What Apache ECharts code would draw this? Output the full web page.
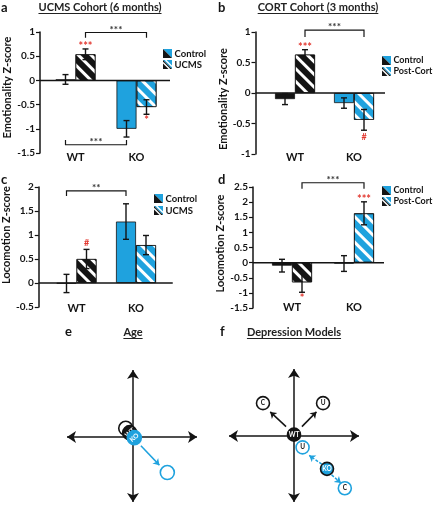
<!DOCTYPE html>
<html><head><meta charset="utf-8">
<script src="https://cdn.jsdelivr.net/npm/echarts@6/dist/echarts.min.js"></script>
<style>html,body{margin:0;padding:0;background:#fff}#c{width:434px;height:506px}</style>
</head><body><div id="c"></div>
<script>
// ---------- data ----------
const categories = ['WT', 'KO'];

// a: UCMS cohort, emotionality
const aTicks = [-1.5, -1, -0.5, 0, 0.5, 1];
const aControl = [0.02, -1.00];
const aControlErr = [0.10, 0.17];
const aUcms = [0.54, -0.55];
const aUcmsErr = [0.11, 0.15];
const aControlStars = ['', ''];
const aUcmsStars = ['***', '*'];
// [fromSeries, fromCat, toSeries, toCat, level, endLevel, text]
const aBrackets = [[1, 0, 1, 1, 0.99, 0.88, '***'], [0, 0, 0, 1, -1.33, -1.23, '***']];

// b: CORT cohort, emotionality
const bTicks = [-1, -0.5, 0, 0.5, 1];
const bControl = [-0.10, -0.165];
const bControlErr = [0.09, 0.085];
const bCort = [0.63, -0.44];
const bCortErr = [0.08, 0.17];
const bControlStars = ['', ''];
const bCortStars = ['***', '#'];
const bBrackets = [[1, 0, 1, 1, 1.03, 0.92, '***']];

// c: UCMS cohort, locomotion
const cTicks = [-0.5, 0, 0.5, 1, 1.5, 2];
const cControl = [-0.01, 1.28];
const cControlErr = [0.19, 0.37];
const cUcms = [0.50, 0.79];
const cUcmsErr = [0.20, 0.20];
const cControlStars = ['', ''];
const cUcmsStars = ['#', ''];
const cBrackets = [[0, 0, 0, 1, 1.92, 1.81, '**']];

// d: CORT cohort, locomotion
const dTicks = [-1.5, -1, -0.5, 0, 0.5, 1, 1.5, 2, 2.5];
const dControl = [-0.10, -0.03];
const dControlErr = [0.21, 0.26];
const dCort = [-0.65, 1.63];
const dCortErr = [0.33, 0.38];
const dControlStars = ['', ''];
const dCortStars = ['*', '***'];
const dBrackets = [[1, 0, 1, 1, 2.64, 2.44, '***']];

// e: Age diagram (E vs L space)
const eAxisH = [[-1, 0], [0.97, 0]];
const eAxisV = [[0, -0.97], [0, 1]];
const eAxisNames = [[0, 1.17, 'E'], [1.12, 0, 'L']];
const eWtAged = [[-0.11, 0.13, '']];
const eWtYoung = [[-0.05, 0.065, 'WT']];
const eKoYoung = [[0.02, -0.01, 'KO']];
const eKoAged = [[0.52, -0.53, '']];
const eKoArrows = [[[0.12, -0.13], [0.40, -0.42]]];

// f: Depression models diagram
const fAxisH = [[-0.985, 0], [0.985, 0]];
const fAxisV = [[0, -0.985], [0, 1]];
const fAxisNames = [[0, 1.17, 'E'], [1.1, 0, 'L']];
const fWtBase = [[0, 0.02, 'WT']];
const fKoBase = [[0.50, -0.49, 'KO']];
const fWtModels = [[-0.47, 0.49, 'C'], [0.44, 0.49, 'U']];
const fKoModels = [[0.13, -0.17, 'U'], [0.77, -0.78, 'C']];
const fWtArrows = [[[-0.12, 0.14], [-0.36, 0.36]], [[0.12, 0.14], [0.34, 0.36]]];
const fKoArrows = [[[0.42, -0.42], [0.23, -0.29]], [[0.57, -0.58], [0.71, -0.70]]];

// ---------- styling ----------
const BLUE = '#1fa2de', INK = '#141414', RED = '#e2372f';
const FONT = 'Lato, "Open Sans", sans-serif';
const BAR_W = 20;
const catColor = [INK, BLUE];

const panels = [
  {grid: {left: 45, top: 32, width: 122, height: 121}, yOff: 5, ext: 3, ticks: aTicks,
   ctrl: aControl, ctrlErr: aControlErr, trt: aUcms, trtErr: aUcmsErr,
   ctrlStars: aControlStars, trtStars: aUcmsStars, brackets: aBrackets,
   yName: 'Emotionality Z-score', nameGap: 24, namePad: [0, 0, 0, 10], catMargin: -1},
  {grid: {left: 265.5, top: 32, width: 118, height: 122}, yOff: 10, ext: 1.5, ticks: bTicks,
   ctrl: bControl, ctrlErr: bControlErr, trt: bCort, trtErr: bCortErr,
   ctrlStars: bControlStars, trtStars: bCortStars, brackets: bBrackets,
   yName: 'Emotionality Z-score', nameGap: 25, namePad: [0, 12, 0, 0], catMargin: -2},
  {grid: {left: 46.75, top: 187, width: 119, height: 120}, yOff: 8, ext: 7, ticks: cTicks,
   ctrl: cControl, ctrlErr: cControlErr, trt: cUcms, trtErr: cUcmsErr,
   ctrlStars: cControlStars, trtStars: cUcmsStars, brackets: cBrackets,
   yName: 'Locomotion Z-score', nameGap: 25, namePad: [0, 0, 0, 24], catMargin: -4},
  {grid: {left: 261, top: 187, width: 124, height: 121}, yOff: 8, ext: -1, ticks: dTicks,
   ctrl: dControl, ctrlErr: dControlErr, trt: dCort, trtErr: dCortErr,
   ctrlStars: dControlStars, trtStars: dCortStars, brackets: dBrackets,
   yName: 'Locomotion Z-score', nameGap: 23, namePad: [0, 0, 0, 8], catMargin: -6}
];

const grids = [], xAxes = [], yAxes = [], series = [];

function errSeries(gi, side, vals, errs, stars) {
  return {
    type: 'custom', xAxisIndex: gi, yAxisIndex: gi, z: 5, silent: true,
    data: vals.map((v, i) => [i, v, errs[i]]),
    renderItem(params, api) {
      const i = params.dataIndex;
      const cat = api.value(0), v = api.value(1), e = api.value(2);
      const cx = api.coord([cat, v])[0] + (side - 0.5) * BAR_W;
      const yt = api.coord([cat, v + e])[1], yb = api.coord([cat, v - e])[1];
      const st = {stroke: INK, lineWidth: 1.4};
      const ch = [
        {type: 'line', shape: {x1: cx, y1: yt, x2: cx, y2: yb}, style: st},
        {type: 'line', shape: {x1: cx - 3, y1: yt, x2: cx + 3, y2: yt}, style: st},
        {type: 'line', shape: {x1: cx - 3, y1: yb, x2: cx + 3, y2: yb}, style: st}
      ];
      const s = stars[i];
      if (s) {
        const up = v >= 0;
        const isHash = s === '#';
        ch.push({type: 'text', style: {
          text: s, x: cx, y: up ? yt + (isHash ? -2 : 3) : yb + (isHash ? 2 : 1),
          align: 'center', textAlign: 'center',
          verticalAlign: up ? 'bottom' : 'top', textVerticalAlign: up ? 'bottom' : 'top',
          fill: RED, font: 'bold ' + (isHash ? 9 : 11) + 'px ' + FONT}});
      }
      return {type: 'group', children: ch};
    }
  };
}

function bracketSeries(gi, brackets) {
  return {
    type: 'custom', xAxisIndex: gi, yAxisIndex: gi, z: 6, silent: true,
    data: brackets.map(b => [b[1], b[4]]),
    renderItem(params, api) {
      const b = brackets[params.dataIndex];
      const x1 = api.coord([b[1], b[4]])[0] + (b[0] - 0.5) * BAR_W;
      const x2 = api.coord([b[3], b[4]])[0] + (b[2] - 0.5) * BAR_W;
      const y = api.coord([b[1], b[4]])[1], ye = api.coord([b[1], b[5]])[1];
      return {type: 'group', children: [
        {type: 'polyline', shape: {points: [[x1, ye], [x1, y], [x2, y], [x2, ye]]},
         style: {stroke: INK, lineWidth: 1.2, fill: null}},
        {type: 'text', style: {text: b[6], x: (x1 + x2) / 2, y: y + 2,
          align: 'center', textAlign: 'center', verticalAlign: 'bottom', textVerticalAlign: 'bottom',
          fill: '#333', font: 'bold 10px ' + FONT}}
      ]};
    }
  };
}

function zeroSeries(gi, yOff, ext) {
  return {
    type: 'custom', xAxisIndex: gi, yAxisIndex: gi, z: 4, silent: true,
    data: [[0, 0]],
    renderItem(params, api) {
      const cs = params.coordSys;
      const y = api.coord([0, 0])[1];
      return {type: 'line', shape: {x1: cs.x - yOff, y1: y, x2: cs.x + cs.width + ext, y2: y},
        style: {stroke: INK, lineWidth: 1.5}};
    }
  };
}

const stripe = {symbol: 'rect', symbolSize: 1, color: '#ffffff', dashArrayX: [1, 0], dashArrayY: [2.6, 6], rotation: Math.PI / 4};

panels.forEach((p, gi) => {
  grids.push(Object.assign({outerBoundsMode: 'none', containLabel: false}, p.grid));
  xAxes.push({type: 'category', gridIndex: gi, data: categories, position: 'bottom',
    axisLine: {show: false}, axisTick: {show: false}, splitLine: {show: false},
    axisLabel: {margin: p.catMargin, color: INK, fontWeight: 'bold', fontSize: 11, fontFamily: FONT}});
  yAxes.push({type: 'value', gridIndex: gi, min: p.ticks[0], max: p.ticks[p.ticks.length - 1],
    interval: p.ticks[1] - p.ticks[0], offset: p.yOff,
    name: p.yName, nameLocation: 'middle', nameGap: p.nameGap, nameRotate: 90,
    nameTextStyle: {color: INK, fontWeight: 'bold', fontSize: 11, fontFamily: FONT, padding: p.namePad},
    axisLine: {show: true, onZero: false, lineStyle: {color: INK, width: 1.5}},
    axisTick: {show: true, inside: false, length: 4, lineStyle: {color: INK, width: 1.2}},
    splitLine: {show: false},
    axisLabel: {margin: 5, color: INK, fontWeight: 'bold', fontSize: 10, fontFamily: FONT,
      formatter: v => String(v)}});
  series.push({type: 'bar', xAxisIndex: gi, yAxisIndex: gi, barWidth: BAR_W, barGap: '0%', z: 2,
    itemStyle: {borderColor: INK, borderWidth: 0.8},
    data: p.ctrl.map((v, i) => ({value: v, itemStyle: {color: catColor[i]}}))});
  series.push({type: 'bar', xAxisIndex: gi, yAxisIndex: gi, barWidth: BAR_W, barGap: '0%', z: 2,
    itemStyle: {borderColor: INK, borderWidth: 0.8, decal: stripe},
    data: p.trt.map((v, i) => ({value: v, itemStyle: {color: catColor[i]}}))});
  series.push(zeroSeries(gi, p.yOff, p.ext));
  series.push(errSeries(gi, 0, p.ctrl, p.ctrlErr, p.ctrlStars));
  series.push(errSeries(gi, 1, p.trt, p.trtErr, p.trtStars));
  series.push(bracketSeries(gi, p.brackets));
});

// diagrams
const diagrams = [
  {grid: {left: 67, top: 370, width: 132, height: 134}},
  {grid: {left: 228, top: 369, width: 132, height: 134}}
];
diagrams.forEach(d => {
  const gi = grids.length;
  d.gi = gi;
  grids.push(Object.assign({outerBoundsMode: 'none', containLabel: false}, d.grid));
  xAxes.push({type: 'value', gridIndex: gi, min: -1, max: 1, show: false});
  yAxes.push({type: 'value', gridIndex: gi, min: -1, max: 1, show: false});
});

function arrows(gi, segs, color, both, dashed) {
  return {type: 'lines', coordinateSystem: 'cartesian2d', xAxisIndex: gi, yAxisIndex: gi, silent: true, z: 3,
    symbol: both ? ['arrow', 'arrow'] : ['none', 'arrow'], symbolSize: both ? 9 : 6,
    lineStyle: {color: color, width: 1.5, opacity: 1, curveness: 0, type: dashed ? [3, 1.5] : 'solid'},
    data: segs.map(s => ({coords: s}))};
}
function nodes(gi, pts, fill, stroke, textColor, size, rot, z) {
  return {type: 'scatter', xAxisIndex: gi, yAxisIndex: gi, symbol: 'circle', symbolSize: size, z: z, silent: true,
    itemStyle: {color: fill, borderColor: stroke, borderWidth: 1.6, opacity: 1},
    label: {show: true, position: 'inside', formatter: q => q.data[2] || '', color: textColor,
      fontSize: 6.5, fontWeight: 'bold', fontFamily: FONT, rotate: rot},
    data: pts};
}
function axisNames(gi, pts) {
  return {type: 'scatter', xAxisIndex: gi, yAxisIndex: gi, symbolSize: 1, z: 3, silent: true,
    itemStyle: {color: 'rgba(0,0,0,0)'},
    label: {show: true, position: 'inside', formatter: q => q.data[2], color: INK,
      fontSize: 11, fontWeight: 'bold', fontStyle: 'italic', fontFamily: FONT},
    data: pts};
}
const ge = diagrams[0].gi, gf = diagrams[1].gi;
series.push(arrows(ge, [eAxisH, eAxisV], INK, true, false));
series.push(axisNames(ge, eAxisNames));
series.push(arrows(ge, eKoArrows, BLUE, false, false));
series.push(nodes(ge, eWtAged, '#ffffff', INK, INK, 14, 40, 4));
series.push(nodes(ge, eWtYoung, INK, INK, '#ffffff', 14, 40, 5));
series.push(nodes(ge, eKoYoung, BLUE, BLUE, '#ffffff', 14, 40, 6));
series.push(nodes(ge, eKoAged, '#ffffff', BLUE, BLUE, 14, 0, 4));

series.push(arrows(gf, [fAxisH, fAxisV], INK, true, false));
series.push(axisNames(gf, fAxisNames));
series.push(arrows(gf, fWtArrows, INK, false, false));
series.push(arrows(gf, fKoArrows, BLUE, false, true));
series.push(nodes(gf, fWtBase, INK, INK, '#ffffff', 13, 0, 5));
series.push(nodes(gf, fKoBase, BLUE, INK, '#ffffff', 13, 0, 5));
series.push(nodes(gf, fWtModels, '#ffffff', INK, INK, 13, 0, 5));
series.push(nodes(gf, fKoModels, '#ffffff', BLUE, INK, 13, 0, 5));

// ---------- graphic: titles, panel letters, legends ----------
const mctx = document.createElement('canvas').getContext('2d');
function tw(text, font) { mctx.font = font; return mctx.measureText(text).width; }
function txt(text, x, y, font, align, fill) {
  return {type: 'text', x: 0, y: 0, silent: true, style: {text: text, x: x, y: y, font: font, fill: fill || INK,
    align: align || 'left', textAlign: align || 'left', verticalAlign: 'middle', textVerticalAlign: 'middle'}};
}
function title(text, cx, cy) {
  const f = 'bold 11px ' + FONT;
  const w = tw(text, f);
  return [txt(text, cx, cy, f, 'center', '#222'),
    {type: 'line', silent: true, shape: {x1: cx - w / 2, y1: cy + 6.5, x2: cx + w / 2, y2: cy + 6.5},
     style: {stroke: '#222', lineWidth: 1}}];
}
function icon(x, y, striped) {
  const ch = [
    {type: 'polygon', shape: {points: [[x, y], [x + 9, y], [x + 9, y + 9]]}, style: {fill: BLUE}},
    {type: 'polygon', shape: {points: [[x, y], [x + 9, y + 9], [x, y + 9]]}, style: {fill: INK}}
  ];
  if (striped) {
    ch.push({type: 'line', shape: {x1: x, y1: y + 2.5, x2: x + 6.5, y2: y + 9}, style: {stroke: '#fff', lineWidth: 1.4}});
    ch.push({type: 'line', shape: {x1: x + 2.5, y1: y, x2: x + 9, y2: y + 6.5}, style: {stroke: '#fff', lineWidth: 1.4}});
  }
  return {type: 'group', silent: true, children: ch};
}
function legend(x, y1, y2, l1, l2, size) {
  const f = 'bold ' + size + 'px ' + FONT;
  return [icon(x, y1, false), txt(l1, x + 11.5, y1 + 4.5, f),
          icon(x, y2, true), txt(l2, x + 11.5, y2 + 4.5, f)];
}
const letterFont = 'bold 13px ' + FONT;
const graphics = [].concat(
  [txt('a', 1, 8, letterFont), txt('b', 218, 8, letterFont), txt('c', 1, 180, letterFont),
   txt('d', 218, 180, letterFont), txt('e', 65, 332, letterFont), txt('f', 220, 332, letterFont)],
  title('UCMS Cohort (6 months)', 100, 7),
  title('CORT Cohort (3 months)', 318, 7),
  title('Age', 133, 332),
  title('Depression Models', 294, 332),
  legend(163, 49, 60, 'Control', 'UCMS', 9.5),
  legend(382, 56, 67, 'Control', 'Post-Cort', 9),
  legend(154, 194, 206, 'Control', 'UCMS', 9.5),
  legend(382, 186, 197, 'Control', 'Post-Cort', 9)
);

const chart = echarts.init(document.getElementById('c'), null, {renderer: 'canvas', width: 434, height: 506});
chart.setOption({
  backgroundColor: '#ffffff',
  animation: false,
  textStyle: {fontFamily: FONT},
  grid: grids, xAxis: xAxes, yAxis: yAxes, series: series,
  graphic: graphics
});
</script></body></html>
